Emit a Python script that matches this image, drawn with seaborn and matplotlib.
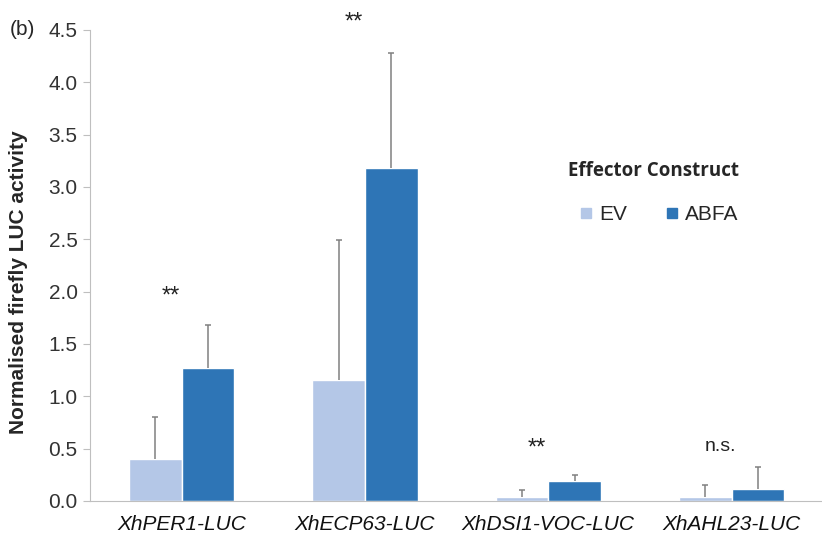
import pandas as pd
import matplotlib.pyplot as plt
import seaborn as sns
import numpy as np

# Dados
genes = ["XhPER1-LUC", "XhECP63-LUC", "XhDSI1-VOC-LUC", "XhAHL23-LUC"]
ev_vals = [0.40, 1.16, 0.04, 0.04]
abfa_vals = [1.27, 3.18, 0.19, 0.11]
ev_err = [0.40, 1.33, 0.065, 0.11]
abfa_err = [0.41, 1.10, 0.06, 0.21]
signif = ["**", "**", "**", "n.s."]
signif_y = [1.95, 4.57, 0.50, 0.52]

cores = ["#b4c7e7", "#2e75b6"]

sns.set_style("white")
plt.rcParams["font.family"] = ["Liberation Sans", "DejaVu Sans"]

df = pd.DataFrame(
    {
        "Gene": genes * 2,
        "Valor": ev_vals + abfa_vals,
        "Erro": ev_err + abfa_err,
        "Efetor": ["EV"] * 4 + ["ABFA"] * 4,
    }
)

fig = plt.figure(figsize=(8.22, 5.34), dpi=100)
ax = fig.add_axes([0.1095, 0.0618, 0.892, 0.8822])

sns.barplot(
    data=df,
    x="Gene",
    y="Valor",
    hue="Efetor",
    hue_order=["EV", "ABFA"],
    palette=cores,
    width=0.575,
    saturation=1,
    errorbar=None,
    legend=False,
    ax=ax,
)

# Barras de erro só para cima, com tampa apenas no topo
for container, erros in zip(ax.containers, [ev_err, abfa_err]):
    for bar, e in zip(container, erros):
        xc = bar.get_x() + bar.get_width() / 2
        h = bar.get_height()
        ax.vlines(xc, h, h + e, color="#808080", linewidth=1.1, zorder=1)
        ax.hlines(h + e, xc - 0.017, xc + 0.017, color="#808080", linewidth=1.1, zorder=1)

# Marcas de significância
for i, (s, y) in enumerate(zip(signif, signif_y)):
    ax.text(i - 0.06, y, s, ha="center", va="center",
            fontsize=17 if s == "**" else 14, color="#222222")

ax.set_ylim(0, 4.5)
ax.set_xlim(-0.5, 3.5)
ax.set_yticks(np.arange(0, 4.51, 0.5))
ax.set_yticklabels([f"{v:.1f}" for v in np.arange(0, 4.51, 0.5)], fontsize=15, color="#333333")
ax.set_xticks(range(4))
ax.set_xticklabels(genes, fontsize=15, style="italic", color="#111111")
ax.set_xticks([-0.5, 0.5, 1.5, 2.5, 3.5], minor=True)
ax.tick_params(axis="x", which="major", length=0, pad=10)
ax.tick_params(axis="x", which="minor", length=5, color="#bfbfbf", direction="out")
ax.tick_params(axis="y", length=5, color="#bfbfbf", direction="out", pad=4, left=True)
ax.set_xlabel("")
ax.set_ylabel("Normalised firefly LUC activity", fontsize=15, fontweight="bold")
ax.yaxis.set_label_coords(-0.085, 0.465)

for lado in ["top", "right"]:
    ax.spines[lado].set_visible(False)
ax.spines["left"].set_color("#bfbfbf")
ax.spines["bottom"].set_color("#bfbfbf")

# Legenda
handles = [
    plt.Line2D([], [], marker="s", linestyle="none", markersize=7, color=c) for c in cores
]
ax.legend(
    handles, ["EV", "ABFA"], ncol=2, frameon=False, fontsize=15,
    loc="center", bbox_to_anchor=(0.772, 0.608), handletextpad=0.0, columnspacing=1.6,
    handlelength=1.2,
)
ax.text(0.769, 0.70, "Effector Construct", transform=ax.transAxes, ha="center",
        va="center", fontsize=13.5, fontweight="bold", family="Open Sans")

fig.text(0.012, 0.944, "(b)", fontsize=15, va="center", ha="left")

plt.savefig("out.png", dpi=100)
